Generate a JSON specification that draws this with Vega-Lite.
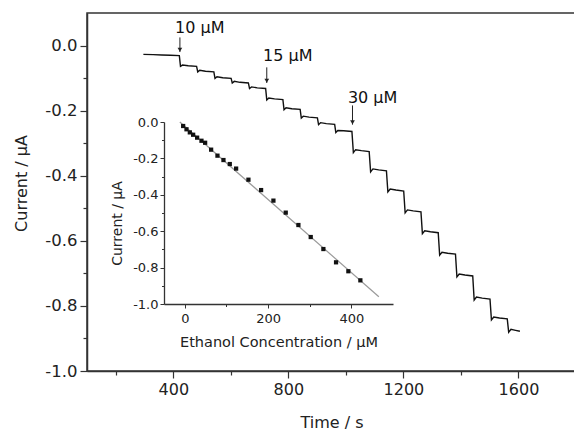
{
  "$schema": "https://vega.github.io/schema/vega-lite/v6.json",
  "width": 489,
  "height": 358,
  "autosize": "none",
  "padding": {"left": 87, "top": 13, "right": 0, "bottom": 61},
  "background": "white",
  "config": {
    "font": "DejaVu Sans",
    "view": {"stroke": "#333", "strokeWidth": 1.5},
    "axis": {"grid": false, "domainColor": "#333", "tickColor": "#333", "labelColor": "#222", "titleColor": "#222", "titleFontWeight": "normal", "labelFont": "DejaVu Sans", "titleFont": "DejaVu Sans"}
  },
  "datasets": {
    "trace": [
      {"t": 296, "i": -0.027}, {"t": 330, "i": -0.028}, {"t": 360, "i": -0.029}, {"t": 390, "i": -0.030}, {"t": 421, "i": -0.031},
      {"t": 425, "i": -0.064}, {"t": 432, "i": -0.060}, {"t": 452, "i": -0.062}, {"t": 481, "i": -0.064},
      {"t": 485, "i": -0.081}, {"t": 492, "i": -0.076}, {"t": 512, "i": -0.079}, {"t": 541, "i": -0.081},
      {"t": 545, "i": -0.101}, {"t": 552, "i": -0.096}, {"t": 572, "i": -0.099}, {"t": 601, "i": -0.101},
      {"t": 605, "i": -0.115}, {"t": 612, "i": -0.110}, {"t": 632, "i": -0.113}, {"t": 661, "i": -0.115},
      {"t": 665, "i": -0.132}, {"t": 672, "i": -0.127}, {"t": 692, "i": -0.130}, {"t": 721, "i": -0.132},
      {"t": 725, "i": -0.167}, {"t": 732, "i": -0.161}, {"t": 752, "i": -0.164}, {"t": 781, "i": -0.166},
      {"t": 785, "i": -0.197}, {"t": 792, "i": -0.191}, {"t": 812, "i": -0.194}, {"t": 841, "i": -0.196},
      {"t": 845, "i": -0.223}, {"t": 852, "i": -0.217}, {"t": 872, "i": -0.220}, {"t": 901, "i": -0.222},
      {"t": 905, "i": -0.243}, {"t": 912, "i": -0.237}, {"t": 932, "i": -0.240}, {"t": 961, "i": -0.242},
      {"t": 965, "i": -0.267}, {"t": 972, "i": -0.261}, {"t": 992, "i": -0.262}, {"t": 1021, "i": -0.264},
      {"t": 1026, "i": -0.329}, {"t": 1034, "i": -0.320}, {"t": 1054, "i": -0.323}, {"t": 1081, "i": -0.326},
      {"t": 1086, "i": -0.388}, {"t": 1094, "i": -0.379}, {"t": 1114, "i": -0.382}, {"t": 1141, "i": -0.385},
      {"t": 1146, "i": -0.450}, {"t": 1154, "i": -0.441}, {"t": 1174, "i": -0.444}, {"t": 1201, "i": -0.447},
      {"t": 1206, "i": -0.514}, {"t": 1214, "i": -0.505}, {"t": 1234, "i": -0.508}, {"t": 1261, "i": -0.511},
      {"t": 1266, "i": -0.578}, {"t": 1274, "i": -0.569}, {"t": 1294, "i": -0.572}, {"t": 1321, "i": -0.575},
      {"t": 1326, "i": -0.644}, {"t": 1334, "i": -0.635}, {"t": 1354, "i": -0.638}, {"t": 1381, "i": -0.641},
      {"t": 1386, "i": -0.711}, {"t": 1394, "i": -0.702}, {"t": 1414, "i": -0.705}, {"t": 1441, "i": -0.708},
      {"t": 1446, "i": -0.782}, {"t": 1454, "i": -0.773}, {"t": 1474, "i": -0.776}, {"t": 1501, "i": -0.779},
      {"t": 1506, "i": -0.843}, {"t": 1514, "i": -0.834}, {"t": 1534, "i": -0.837}, {"t": 1561, "i": -0.840},
      {"t": 1566, "i": -0.881}, {"t": 1574, "i": -0.872}, {"t": 1590, "i": -0.875}, {"t": 1605, "i": -0.878}
    ],
    "notes": [
      {"label": "10 μM", "t": 406, "i": 0.055},
      {"label": "15 μM", "t": 712, "i": -0.031},
      {"label": "30 μM", "t": 1007, "i": -0.160}
    ],
    "arrows": [
      {"t": 423, "top": 0.025, "tip": -0.020, "head": -0.013},
      {"t": 725, "top": -0.067, "tip": -0.115, "head": -0.108},
      {"t": 1023, "top": -0.184, "tip": -0.243, "head": -0.236}
    ],
    "cal": [
      {"c": -4, "i": -0.022}, {"c": 4, "i": -0.040}, {"c": 12, "i": -0.057}, {"c": 20, "i": -0.070},
      {"c": 29.6, "i": -0.086}, {"c": 40, "i": -0.103}, {"c": 48.8, "i": -0.114}, {"c": 63.2, "i": -0.152},
      {"c": 78.4, "i": -0.185}, {"c": 92.8, "i": -0.209}, {"c": 108, "i": -0.231}, {"c": 123.2, "i": -0.256},
      {"c": 152.8, "i": -0.317}, {"c": 183.2, "i": -0.374}, {"c": 212.8, "i": -0.432}, {"c": 242.4, "i": -0.498},
      {"c": 272.8, "i": -0.566}, {"c": 302.4, "i": -0.632}, {"c": 332.8, "i": -0.698}, {"c": 363.2, "i": -0.771},
      {"c": 392.8, "i": -0.820}, {"c": 421.6, "i": -0.870}
    ],
    "fit": [{"c": -12, "i": 0.0}, {"c": 466, "i": -0.96}]
  },
  "layer": [
    {
      "data": {"name": "trace"},
      "mark": {"type": "line", "color": "#111", "strokeWidth": 1.4},
      "encoding": {
        "x": {"field": "t", "type": "quantitative", "scale": {"domain": [100, 1800], "nice": false, "zero": false},
          "axis": {"orient": "bottom", "title": "Time / s", "values": [200, 400, 600, 800, 1000, 1200, 1400, 1600],
            "labelExpr": "datum.value % 400 == 0 ? datum.label : ''", "format": "d",
            "tickSize": {"condition": {"test": "datum.value % 400 != 0", "value": 4}, "value": 7},
            "labelFontSize": 16, "titleFontSize": 16, "labelPadding": 3, "titlePadding": 17, "domainWidth": 1.5, "tickWidth": 1.2}},
        "y": {"field": "i", "type": "quantitative", "scale": {"domain": [-1.0, 0.1], "nice": false, "zero": false},
          "axis": {"orient": "left", "title": "Current / μA", "values": [-1.0, -0.9, -0.8, -0.7, -0.6, -0.5, -0.4, -0.3, -0.2, -0.1, 0.0],
            "format": ".1f", "labelExpr": "round(datum.value * 10) % 2 == 0 ? replace(datum.label, '−', '-') : ''",
            "tickSize": {"condition": {"test": "round(datum.value * 10) % 2 != 0", "value": 4}, "value": 7},
            "labelFontSize": 16.5, "titleFontSize": 16, "labelPadding": 3, "titlePadding": 15, "titleY": 170, "domainWidth": 1.5, "tickWidth": 1.2}}
      }
    },
    {
      "data": {"name": "arrows"},
      "mark": {"type": "rule", "color": "#222", "strokeWidth": 1},
      "encoding": {
        "x": {"field": "t", "type": "quantitative", "scale": {"domain": [100, 1800], "nice": false, "zero": false}, "axis": null},
        "y": {"field": "top", "type": "quantitative", "scale": {"domain": [-1.0, 0.1], "nice": false, "zero": false}, "axis": null},
        "y2": {"field": "tip"}
      }
    },
    {
      "data": {"name": "arrows"},
      "mark": {"type": "point", "shape": "triangle-down", "filled": true, "color": "#222", "size": 22, "opacity": 1},
      "encoding": {
        "x": {"field": "t", "type": "quantitative", "scale": {"domain": [100, 1800], "nice": false, "zero": false}, "axis": null},
        "y": {"field": "head", "type": "quantitative", "scale": {"domain": [-1.0, 0.1], "nice": false, "zero": false}, "axis": null}
      }
    },
    {
      "data": {"name": "notes"},
      "mark": {"type": "text", "align": "left", "baseline": "middle", "fontSize": 16, "color": "#111", "font": "DejaVu Sans"},
      "encoding": {
        "x": {"field": "t", "type": "quantitative", "scale": {"domain": [100, 1800], "nice": false, "zero": false}, "axis": null},
        "y": {"field": "i", "type": "quantitative", "scale": {"domain": [-1.0, 0.1], "nice": false, "zero": false}, "axis": null},
        "text": {"field": "label"}
      }
    },
    {
      "data": {"name": "fit"},
      "mark": {"type": "line", "color": "#999", "strokeWidth": 1.2},
      "encoding": {
        "x": {"field": "c", "type": "quantitative", "scale": {"domain": [-50, 500], "range": [77, 306], "nice": false, "zero": false}, "axis": null},
        "y": {"field": "i", "type": "quantitative", "scale": {"domain": [-1.0, 0.0], "range": [291, 109], "nice": false, "zero": false}, "axis": null}
      }
    },
    {
      "data": {"name": "cal"},
      "mark": {"type": "point", "shape": "square", "filled": true, "color": "#111", "size": 18, "opacity": 1},
      "encoding": {
        "x": {"field": "c", "type": "quantitative", "scale": {"domain": [-50, 500], "range": [77, 306], "nice": false, "zero": false},
          "axis": {"orient": "bottom", "offset": -67, "title": "Ethanol Concentration / μM", "values": [0, 100, 200, 300, 400],
            "labelExpr": "datum.value % 200 == 0 ? datum.label : ''",
            "tickSize": {"condition": {"test": "datum.value % 200 != 0", "value": 2.5}, "value": 4},
            "labelFontSize": 13, "titleFontSize": 14.5, "labelPadding": 4, "titlePadding": 10, "domainWidth": 1.3}},
        "y": {"field": "i", "type": "quantitative", "scale": {"domain": [-1.0, 0.0], "range": [291, 109], "nice": false, "zero": false},
          "axis": {"orient": "left", "offset": -77, "title": "Current / μA", "values": [-1.0, -0.9, -0.8, -0.7, -0.6, -0.5, -0.4, -0.3, -0.2, -0.1, 0.0],
            "format": ".1f", "labelExpr": "round(datum.value * 10) % 2 == 0 ? replace(datum.label, '−', '-') : ''",
            "tickSize": {"condition": {"test": "round(datum.value * 10) % 2 != 0", "value": 2.5}, "value": 4},
            "labelFontSize": 13, "titleFontSize": 14, "labelPadding": 2, "titlePadding": 8, "titleY": 210, "domainWidth": 1.3}}
      }
    }
  ],
  "resolve": {"scale": {"x": "independent", "y": "independent"}}
}
